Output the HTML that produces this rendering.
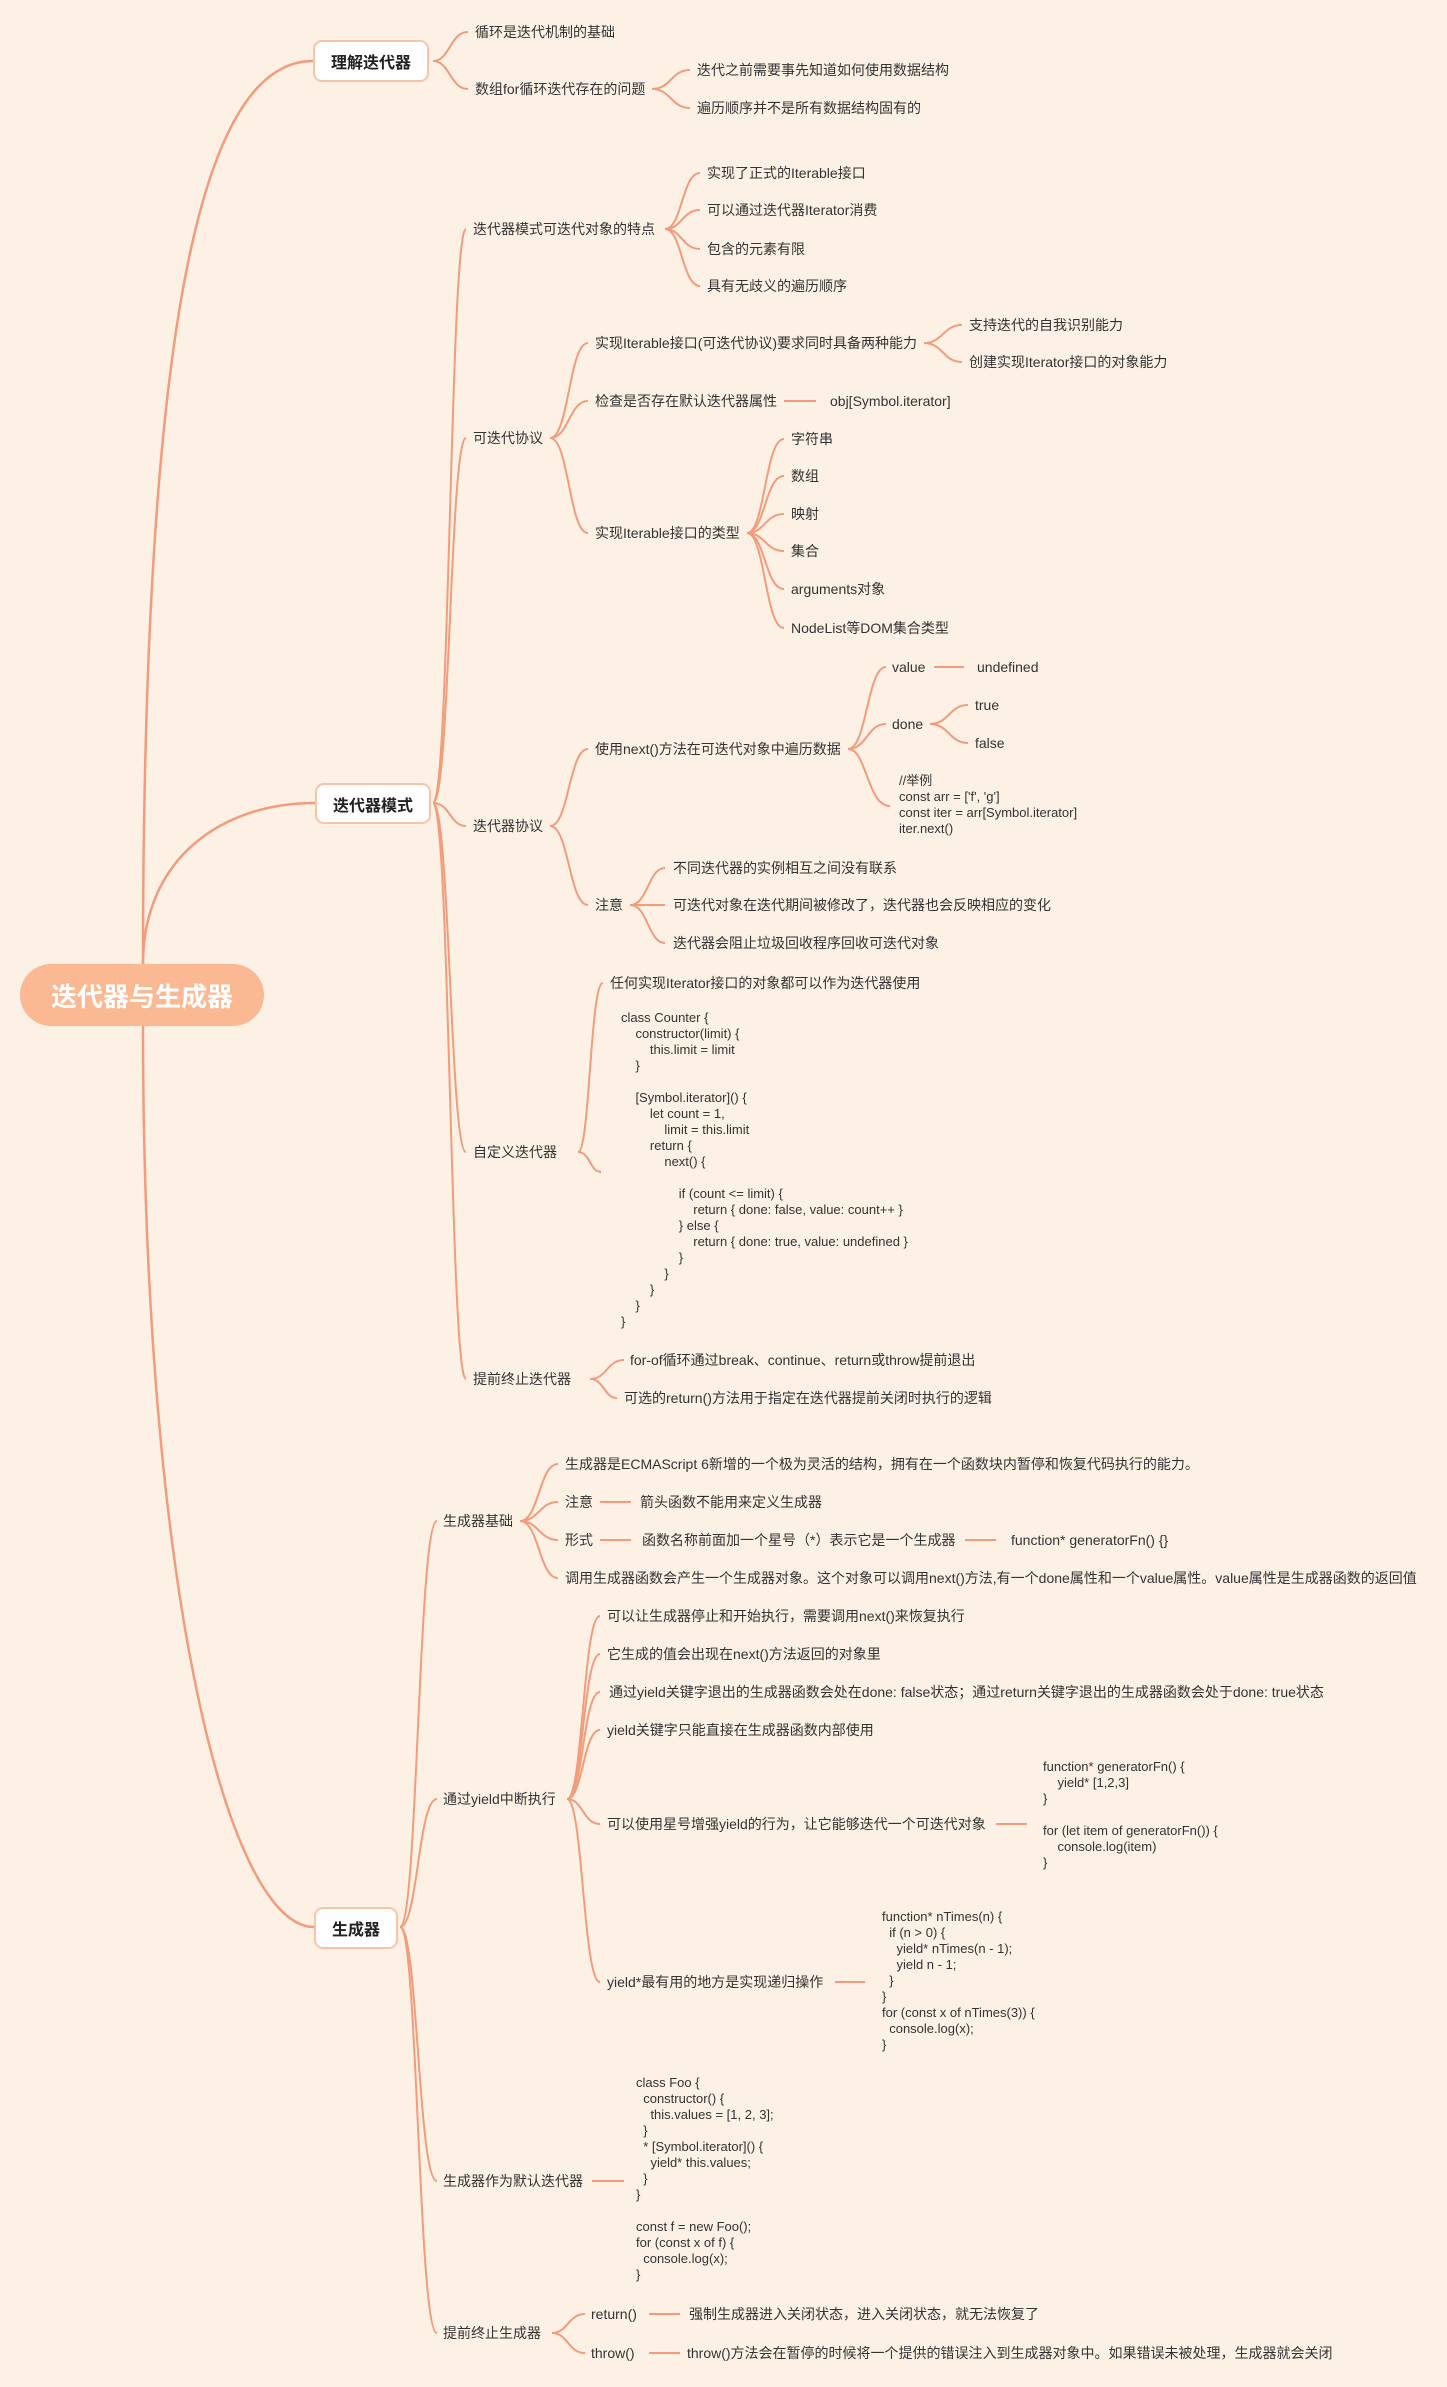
<!DOCTYPE html>
<html><head><meta charset="utf-8">
<style>
html,body{margin:0;padding:0;}
body{width:1447px;height:2387px;background:#fdf1e6;position:relative;overflow:hidden;font-family:"Liberation Sans","Noto Sans CJK SC",sans-serif;color:#333;}
.t{position:absolute;font-size:14px;line-height:20px;white-space:nowrap;}
.c{position:absolute;font-size:13px;line-height:16px;white-space:pre;color:#333;}
.box{position:absolute;background:#fff;border:2px solid #f7c4a5;border-radius:9px;box-sizing:border-box;font-weight:bold;font-size:16px;display:flex;align-items:center;justify-content:center;color:#222;}
.root{position:absolute;left:20px;top:964px;width:244px;height:62px;border-radius:31px;background:#fbb993;color:#fff;font-weight:bold;font-size:26px;display:flex;align-items:center;justify-content:center;}
svg{position:absolute;left:0;top:0;}
</style></head><body>
<svg width="1447" height="2387" fill="none" stroke="#f29c7c" stroke-width="2">
<!-- root branches -->
<path d="M143,964 C143,330 200,61 313,61" stroke-width="2.5"/>
<path d="M143,964 C143,860 220,803 315,803" stroke-width="2.5"/>
<path d="M143,1026 C143,1600 230,1927 314,1927" stroke-width="2.5"/>
<!-- 理解迭代器 -->
<path d="M433,61 C450,61 450,32 468,32"/>
<path d="M433,61 C450,61 450,89 468,89"/>
<path d="M652,89 C671,89 671,70 690,70"/>
<path d="M652,89 C671,89 671,108 690,108"/>
<!-- 迭代器模式 -->
<path d="M433,803 C450,803 450,229 466,229"/>
<path d="M433,803 C450,803 450,438 466,438"/>
<path d="M433,803 C450,803 450,826 466,826"/>
<path d="M433,803 C450,803 450,1152 466,1152"/>
<path d="M433,803 C450,803 450,1379 466,1379"/>
<!-- 特点 -->
<path d="M665,229 C682,229 682,173 700,173"/>
<path d="M665,229 C682,229 682,210 700,210"/>
<path d="M665,229 C682,229 682,249 700,249"/>
<path d="M665,229 C682,229 682,286 700,286"/>
<!-- 可迭代协议 -->
<path d="M550,438 C569,438 569,343 588,343"/>
<path d="M550,438 C569,438 569,401 588,401"/>
<path d="M550,438 C569,438 569,533 588,533"/>
<path d="M924,343 C943,343 943,325 962,325"/>
<path d="M924,343 C943,343 943,362 962,362"/>
<path d="M784,401 L816,401"/>
<path d="M747,533 C765,533 765,439 784,439"/>
<path d="M747,533 C765,533 765,476 784,476"/>
<path d="M747,533 C765,533 765,514 784,514"/>
<path d="M747,533 C765,533 765,551 784,551"/>
<path d="M747,533 C765,533 765,589 784,589"/>
<path d="M747,533 C765,533 765,628 784,628"/>
<!-- 迭代器协议 -->
<path d="M550,826 C569,826 569,749 588,749"/>
<path d="M550,826 C569,826 569,905 588,905"/>
<path d="M848,749 C867,749 867,667 886,667"/>
<path d="M848,749 C867,749 867,724 886,724"/>
<path d="M848,749 C867,749 867,806 890,806"/>
<path d="M934,667 L964,667"/>
<path d="M930,724 C949,724 949,705 968,705"/>
<path d="M930,724 C949,724 949,743 968,743"/>
<path d="M630,905 C648,905 648,868 665,868"/>
<path d="M630,905 L665,905"/>
<path d="M630,905 C648,905 648,943 665,943"/>
<!-- 自定义迭代器 -->
<path d="M578,1152 C590,1152 590,983 603,983"/>
<path d="M578,1152 C590,1152 590,1172 601,1172"/>
<!-- 提前终止迭代器 -->
<path d="M590,1379 C607,1379 607,1360 624,1360"/>
<path d="M590,1379 C604,1379 604,1398 617,1398"/>
<!-- 生成器 -->
<path d="M400,1927 C418,1927 418,1521 437,1521"/>
<path d="M400,1927 C418,1927 418,1799 437,1799"/>
<path d="M400,1927 C418,1927 418,2181 437,2181"/>
<path d="M400,1927 C418,1927 418,2333 437,2333"/>
<!-- 生成器基础 -->
<path d="M520,1521 C539,1521 539,1464 558,1464"/>
<path d="M520,1521 C539,1521 539,1502 558,1502"/>
<path d="M520,1521 C539,1521 539,1540 558,1540"/>
<path d="M520,1521 C539,1521 539,1578 558,1578"/>
<path d="M600,1502 L631,1502"/>
<path d="M600,1540 L631,1540"/>
<path d="M965,1540 L996,1540"/>
<!-- 通过yield -->
<path d="M567,1799 C583,1799 583,1616 600,1616"/>
<path d="M567,1799 C583,1799 583,1654 600,1654"/>
<path d="M567,1799 C583,1799 583,1692 600,1692"/>
<path d="M567,1799 C583,1799 583,1730 600,1730"/>
<path d="M567,1799 C583,1799 583,1824 600,1824"/>
<path d="M567,1799 C583,1799 583,1982 600,1982"/>
<path d="M996,1824 L1027,1824"/>
<path d="M835,1982 L865,1982"/>
<path d="M592,2181 L624,2181"/>
<!-- 提前终止生成器 -->
<path d="M552,2333 C568,2333 568,2314 585,2314"/>
<path d="M552,2333 C568,2333 568,2353 585,2353"/>
<path d="M649,2314 L680,2314"/>
<path d="M649,2353 L680,2353"/>
</svg>

<div class="root">迭代器与生成器</div>
<div class="box" style="left:313px;top:40px;width:116px;height:42px;">理解迭代器</div>
<div class="box" style="left:315px;top:783px;width:116px;height:41px;">迭代器模式</div>
<div class="box" style="left:314px;top:1907px;width:84px;height:42px;">生成器</div>

<div class="t" style="left:475px;top:22px;">循环是迭代机制的基础</div>
<div class="t" style="left:475px;top:79px;">数组for循环迭代存在的问题</div>
<div class="t" style="left:697px;top:60px;">迭代之前需要事先知道如何使用数据结构</div>
<div class="t" style="left:697px;top:98px;">遍历顺序并不是所有数据结构固有的</div>

<div class="t" style="left:473px;top:219px;">迭代器模式可迭代对象的特点</div>
<div class="t" style="left:707px;top:163px;">实现了正式的Iterable接口</div>
<div class="t" style="left:707px;top:200px;">可以通过迭代器Iterator消费</div>
<div class="t" style="left:707px;top:239px;">包含的元素有限</div>
<div class="t" style="left:707px;top:276px;">具有无歧义的遍历顺序</div>

<div class="t" style="left:473px;top:428px;">可迭代协议</div>
<div class="t" style="left:595px;top:333px;">实现Iterable接口(可迭代协议)要求同时具备两种能力</div>
<div class="t" style="left:969px;top:315px;">支持迭代的自我识别能力</div>
<div class="t" style="left:969px;top:352px;">创建实现Iterator接口的对象能力</div>
<div class="t" style="left:595px;top:391px;">检查是否存在默认迭代器属性</div>
<div class="t" style="left:830px;top:391px;">obj[Symbol.iterator]</div>
<div class="t" style="left:595px;top:523px;">实现Iterable接口的类型</div>
<div class="t" style="left:791px;top:429px;">字符串</div>
<div class="t" style="left:791px;top:466px;">数组</div>
<div class="t" style="left:791px;top:504px;">映射</div>
<div class="t" style="left:791px;top:541px;">集合</div>
<div class="t" style="left:791px;top:579px;">arguments对象</div>
<div class="t" style="left:791px;top:618px;">NodeList等DOM集合类型</div>

<div class="t" style="left:473px;top:816px;">迭代器协议</div>
<div class="t" style="left:595px;top:739px;">使用next()方法在可迭代对象中遍历数据</div>
<div class="t" style="left:892px;top:657px;">value</div>
<div class="t" style="left:977px;top:657px;">undefined</div>
<div class="t" style="left:892px;top:714px;">done</div>
<div class="t" style="left:975px;top:695px;">true</div>
<div class="t" style="left:975px;top:733px;">false</div>
<div class="c" style="left:899px;top:773px;">//举例
const arr = ['f', 'g']
const iter = arr[Symbol.iterator]
iter.next()</div>
<div class="t" style="left:595px;top:895px;">注意</div>
<div class="t" style="left:673px;top:858px;">不同迭代器的实例相互之间没有联系</div>
<div class="t" style="left:673px;top:895px;">可迭代对象在迭代期间被修改了，迭代器也会反映相应的变化</div>
<div class="t" style="left:673px;top:933px;">迭代器会阻止垃圾回收程序回收可迭代对象</div>

<div class="t" style="left:473px;top:1142px;">自定义迭代器</div>
<div class="t" style="left:610px;top:973px;">任何实现Iterator接口的对象都可以作为迭代器使用</div>
<div class="c" style="left:621px;top:1010px;">class Counter {
    constructor(limit) {
        this.limit = limit
    }

    [Symbol.iterator]() {
        let count = 1,
            limit = this.limit
        return {
            next() {

                if (count &lt;= limit) {
                    return { done: false, value: count++ }
                } else {
                    return { done: true, value: undefined }
                }
            }
        }
    }
}</div>

<div class="t" style="left:473px;top:1369px;">提前终止迭代器</div>
<div class="t" style="left:630px;top:1350px;">for-of循环通过break、continue、return或throw提前退出</div>
<div class="t" style="left:624px;top:1388px;">可选的return()方法用于指定在迭代器提前关闭时执行的逻辑</div>

<div class="t" style="left:443px;top:1511px;">生成器基础</div>
<div class="t" style="left:565px;top:1454px;">生成器是ECMAScript 6新增的一个极为灵活的结构，拥有在一个函数块内暂停和恢复代码执行的能力。</div>
<div class="t" style="left:565px;top:1492px;">注意</div>
<div class="t" style="left:640px;top:1492px;">箭头函数不能用来定义生成器</div>
<div class="t" style="left:565px;top:1530px;">形式</div>
<div class="t" style="left:642px;top:1530px;">函数名称前面加一个星号（*）表示它是一个生成器</div>
<div class="t" style="left:1011px;top:1530px;">function* generatorFn() {}</div>
<div class="t" style="left:565px;top:1568px;">调用生成器函数会产生一个生成器对象。这个对象可以调用next()方法,有一个done属性和一个value属性。value属性是生成器函数的返回值</div>

<div class="t" style="left:443px;top:1789px;">通过yield中断执行</div>
<div class="t" style="left:607px;top:1606px;">可以让生成器停止和开始执行，需要调用next()来恢复执行</div>
<div class="t" style="left:607px;top:1644px;">它生成的值会出现在next()方法返回的对象里</div>
<div class="t" style="left:609px;top:1682px;">通过yield关键字退出的生成器函数会处在done: false状态；通过return关键字退出的生成器函数会处于done: true状态</div>
<div class="t" style="left:607px;top:1720px;">yield关键字只能直接在生成器函数内部使用</div>
<div class="t" style="left:607px;top:1814px;">可以使用星号增强yield的行为，让它能够迭代一个可迭代对象</div>
<div class="c" style="left:1043px;top:1759px;">function* generatorFn() {
    yield* [1,2,3]
}

for (let item of generatorFn()) {
    console.log(item)
}</div>
<div class="t" style="left:607px;top:1972px;">yield*最有用的地方是实现递归操作</div>
<div class="c" style="left:882px;top:1909px;">function* nTimes(n) {
  if (n &gt; 0) {
    yield* nTimes(n - 1);
    yield n - 1;
  }
}
for (const x of nTimes(3)) {
  console.log(x);
}</div>

<div class="t" style="left:443px;top:2171px;">生成器作为默认迭代器</div>
<div class="c" style="left:636px;top:2075px;">class Foo {
  constructor() {
    this.values = [1, 2, 3];
  }
  * [Symbol.iterator]() {
    yield* this.values;
  }
}

const f = new Foo();
for (const x of f) {
  console.log(x);
}</div>

<div class="t" style="left:443px;top:2323px;">提前终止生成器</div>
<div class="t" style="left:591px;top:2304px;">return()</div>
<div class="t" style="left:689px;top:2304px;">强制生成器进入关闭状态，进入关闭状态，就无法恢复了</div>
<div class="t" style="left:591px;top:2343px;">throw()</div>
<div class="t" style="left:687px;top:2343px;">throw()方法会在暂停的时候将一个提供的错误注入到生成器对象中。如果错误未被处理，生成器就会关闭</div>
</body></html>
